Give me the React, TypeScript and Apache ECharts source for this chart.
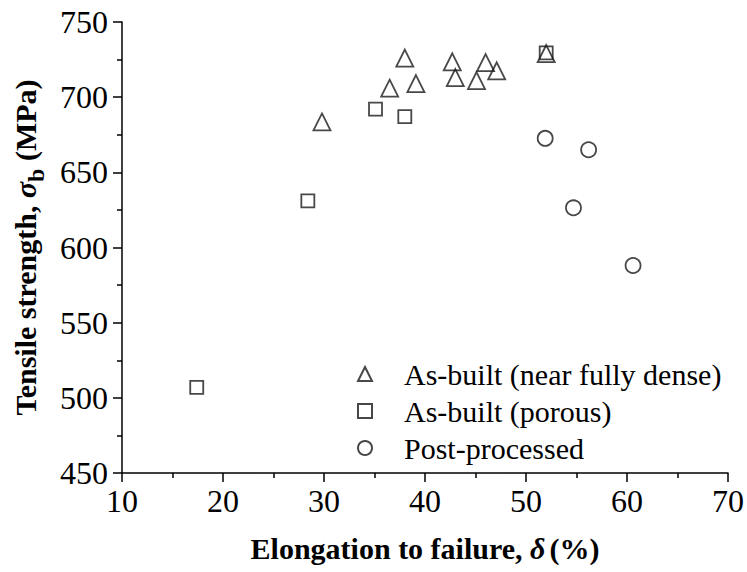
import React, { useEffect, useRef } from "react";
import * as echarts from "echarts";

const denseSeries: [number, number][] = [
  [29.8, 683.5], [36.5, 706], [38.0, 726], [39.1, 709], [42.7, 723.5],
  [43.0, 713], [45.1, 711], [46.0, 723], [47.1, 717.5], [52.0, 729],
];
const porousSeries: [number, number][] = [
  [17.4, 507], [28.4, 631], [35.1, 692], [38.0, 687], [52.0, 729.5],
];
const postSeries: [number, number][] = [
  [51.9, 672.6], [54.7, 626.4], [56.2, 665], [60.6, 588],
];
const seriesNames = ["As-built (near fully dense)", "As-built (porous)", "Post-processed"];
const xTicks = { min: 10, max: 70, interval: 10 };
const yTicks = { min: 450, max: 750, interval: 50 };

const FONT = "'Liberation Serif', 'Times New Roman', serif";
const INK = "#000";
const MARK = "#1a1a1a";

export default function App() {
  const ref = useRef<HTMLDivElement>(null);
  useEffect(() => {
    document.body.style.margin = "0";
    const chart = echarts.init(ref.current!, null, { renderer: "svg" });
    const axisCommon = {
      type: "value" as const,
      axisLine: { show: true, lineStyle: { color: INK, width: 1.5 } },
      axisTick: { show: true, inside: false, length: 9, lineStyle: { color: INK, width: 1.5 } },
      minorTick: { show: true, splitNumber: 2, length: 5, lineStyle: { color: INK, width: 1.5 } },
      splitLine: { show: false },
      minorSplitLine: { show: false },
    };
    const markerStyle = { color: "rgba(0,0,0,0)", borderColor: MARK, borderWidth: 1.8 };
    chart.setOption({
      animation: false,
      backgroundColor: "#fff",
      textStyle: { fontFamily: FONT },
      grid: { left: 122, right: 15, top: 22, bottom: 99, containLabel: false },
      xAxis: {
        ...axisCommon,
        min: xTicks.min,
        max: xTicks.max,
        interval: xTicks.interval,
        axisLabel: { fontSize: 32, fontFamily: FONT, color: INK, margin: 12 },
        name: "{a|Elongation to failure, }{s|δ}{a|(%)}",
        nameLocation: "middle",
        nameGap: 60,
        nameTextStyle: {
          rich: {
            a: { fontSize: 30, fontWeight: "bold", fontFamily: FONT, color: INK },
            s: { fontSize: 30, fontWeight: "bold", fontStyle: "italic", fontFamily: FONT, color: INK, padding: [0, 4, 0, 0] },
          },
        },
      },
      yAxis: {
        ...axisCommon,
        min: yTicks.min,
        max: yTicks.max,
        interval: yTicks.interval,
        axisLabel: { fontSize: 32, fontFamily: FONT, color: INK, margin: 14 },
        name: "{a|Tensile strength, }{s|σ}{b|b}{a| (MPa)}",
        nameLocation: "middle",
        nameRotate: 90,
        nameGap: 74,
        nameTextStyle: {
          rich: {
            a: { fontSize: 30, fontWeight: "bold", fontFamily: FONT, color: INK, lineHeight: 46, verticalAlign: "middle" },
            s: { fontSize: 30, fontWeight: "bold", fontStyle: "italic", fontFamily: FONT, color: INK, lineHeight: 46, verticalAlign: "middle" },
            b: { fontSize: 24, fontWeight: "bold", fontFamily: FONT, color: INK, lineHeight: 46, verticalAlign: "bottom" },
          },
        },
      },
      legend: {
        orient: "vertical",
        left: 352,
        top: 354,
        itemWidth: 14,
        itemHeight: 14,
        itemGap: 7,
        textStyle: { fontSize: 30, fontFamily: FONT, color: INK, lineHeight: 24, padding: [0, 0, 0, 27] },
        data: seriesNames,
      },
      series: [
        {
          name: seriesNames[0],
          type: "scatter",
          symbol: "triangle",
          symbolSize: 17,
          itemStyle: markerStyle,
          data: denseSeries,
          z: 3,
        },
        {
          name: seriesNames[1],
          type: "scatter",
          symbol: "rect",
          symbolSize: 13,
          itemStyle: markerStyle,
          data: porousSeries,
          z: 2,
        },
        {
          name: seriesNames[2],
          type: "scatter",
          symbol: "circle",
          symbolSize: 15,
          itemStyle: markerStyle,
          data: postSeries,
          z: 2,
        },
      ],
    });
    return () => chart.dispose();
  }, []);
  return <div ref={ref} style={{ width: 747, height: 572 }} />;
}
